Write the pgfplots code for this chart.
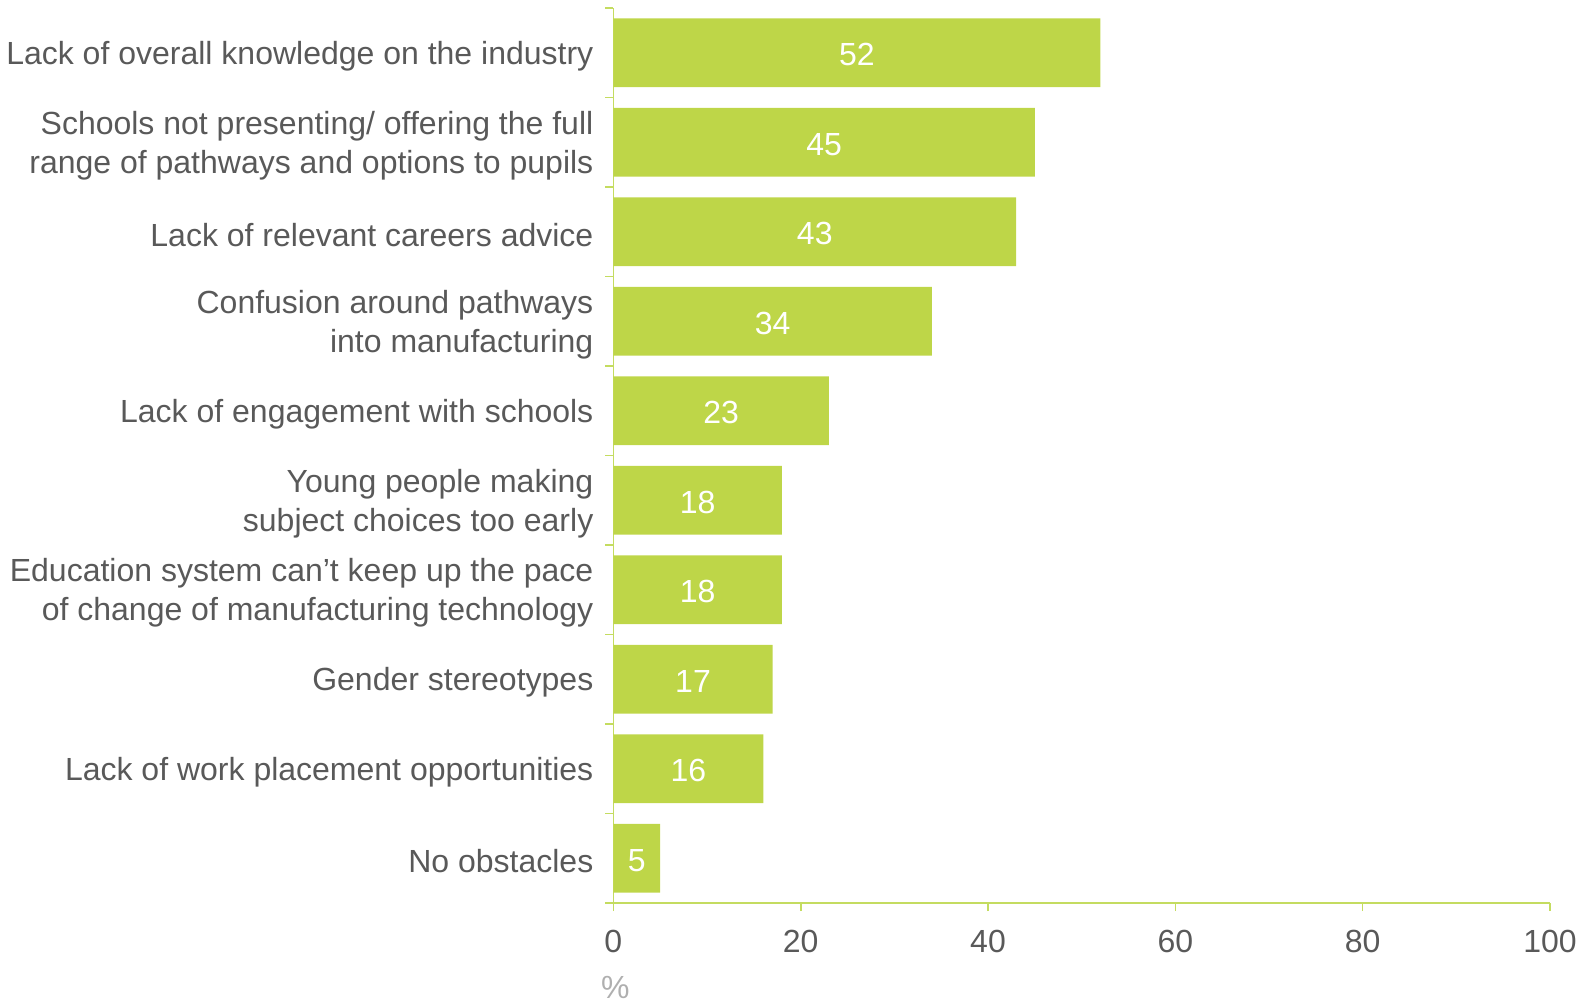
\documentclass[border=0pt]{standalone}
\usepackage{pgfplots}
\pgfplotsset{compat=1.18}
\usepackage{pgfplotstable}
\usepackage{fontspec}
\setmainfont{Liberation Sans}
\definecolor{bargreen}{RGB}{190,214,72}
\definecolor{axgreen}{RGB}{196,220,96}
\definecolor{txt}{RGB}{89,89,89}
\definecolor{pct}{RGB}{175,175,175}
\pgfplotstableread{
pos v
10 52
9 45
8 43
7 34
6 23
5 18
4 18
3 17
2 16
1 5
}\data
\begin{document}
\begin{tikzpicture}
\begin{axis}[
  name=ax,
  scale only axis,
  width=468.3pt, height=447.5pt,
  xmin=0, xmax=100, ymin=0.5, ymax=10.5,
  /pgf/number format/assume math mode=true,
  axis lines*=left,
  axis line style={axgreen, line width=0.8pt, -},
  tick style={axgreen, line width=0.8pt},
  tick align=outside,
  major tick length=4pt,
  xtick={0,20,...,100},
  ytick={0.5,1.5,...,10.5},
  yticklabels={},
  extra y ticks={1,2,3,4,5,6,7,8,9,10},
  extra y tick labels={No obstacles,Lack of work placement opportunities,Gender stereotypes,{Education system can’t keep up the pace\\of change of manufacturing technology},{Young people making\\subject choices too early},Lack of engagement with schools,{Confusion around pathways\\into manufacturing},Lack of relevant careers advice,{Schools not presenting/ offering the full\\range of pathways and options to pupils},Lack of overall knowledge on the industry},
  extra y tick style={major tick length=0pt, yticklabel style={font=\fontsize{16}{19.5}\selectfont, align=right, text=txt, xshift=-6.5pt, yshift=-1.5pt}},
  xticklabel style={font=\fontsize{16}{19}\selectfont, text=txt, yshift=-6pt},
  clip=false,
]
\addplot[xbar, bar width=34.3pt, fill=bargreen, draw=none] table[x=v, y=pos] {\data};
\addplot[draw=none, mark=none, nodes near coords, point meta=explicit,
  every node near coord/.append style={anchor=center, text=white, font=\fontsize{16}{19}\selectfont, yshift=-1pt}]
  table[x expr=\thisrow{v}/2, y=pos, meta=v] {\data};
\node[text=pct, font=\fontsize{16}{19}\selectfont] at ([xshift=1pt, yshift=-42pt]rel axis cs:0,0) {\%};
\end{axis}
\pgfresetboundingbox
\path[use as bounding box] ([xshift=-306.7pt, yshift=-50pt]ax.south west) rectangle ([xshift=484.3pt, yshift=451.5pt]ax.south west);
\end{tikzpicture}
\end{document}
